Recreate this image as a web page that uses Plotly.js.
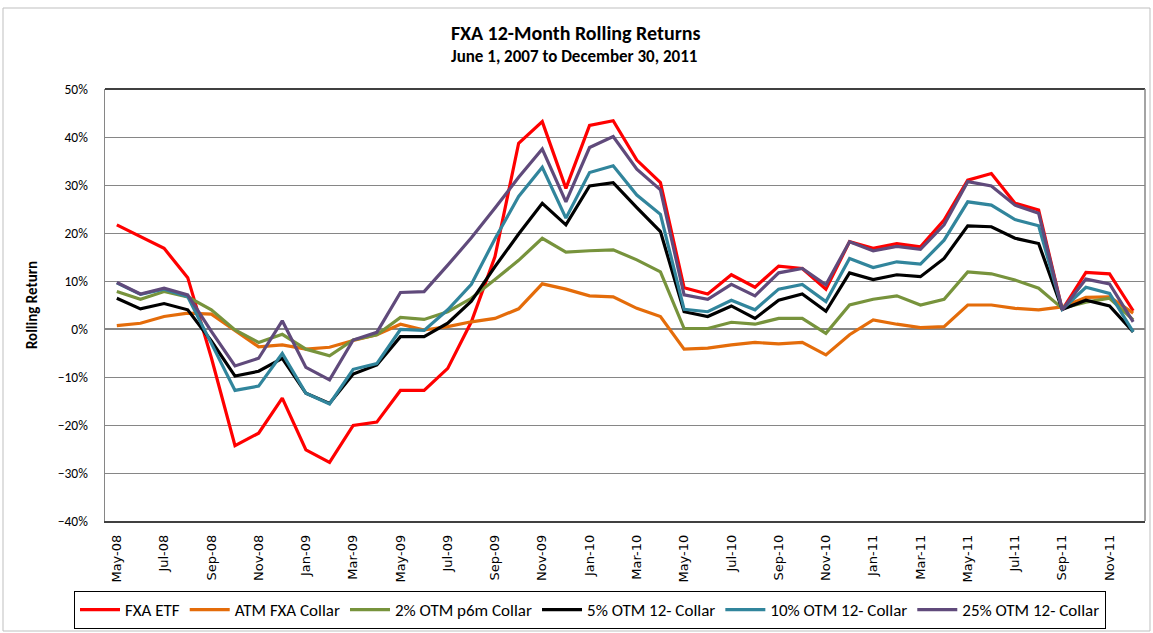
<!DOCTYPE html>
<html>
<head>
<meta charset="utf-8">
<script src="https://cdn.plot.ly/plotly-3.0.1.min.js"></script>
<style>html,body{margin:0;padding:0;background:#fff;}#chart{width:1153px;height:633px;}</style>
</head>
<body>
<div id="chart"></div>
<script>
const months = ["May-08","Jun-08","Jul-08","Aug-08","Sep-08","Oct-08","Nov-08","Dec-08",
  "Jan-09","Feb-09","Mar-09","Apr-09","May-09","Jun-09","Jul-09","Aug-09","Sep-09","Oct-09","Nov-09","Dec-09",
  "Jan-10","Feb-10","Mar-10","Apr-10","May-10","Jun-10","Jul-10","Aug-10","Sep-10","Oct-10","Nov-10","Dec-10",
  "Jan-11","Feb-11","Mar-11","Apr-11","May-11","Jun-11","Jul-11","Aug-11","Sep-11","Oct-11","Nov-11","Dec-11"];

const fxaEtf = [21.7,19.3,16.8,10.7,-6.0,-24.3,-21.7,-14.4,-25.2,-27.8,-20.1,-19.4,-12.8,-12.8,-8.2,1.5,15.1,38.7,43.2,29.3,42.4,43.4,35.2,30.5,8.6,7.3,11.3,8.7,13.1,12.6,8.3,18.2,16.8,17.8,17.1,22.7,31.0,32.4,26.2,24.8,4.0,11.8,11.5,3.8];
const atmCollar = [0.7,1.2,2.6,3.3,3.1,-0.2,-3.7,-3.3,-4.2,-3.8,-2.4,-1.2,1.0,-0.2,0.5,1.5,2.2,4.2,9.4,8.3,6.9,6.7,4.3,2.6,-4.2,-4.0,-3.3,-2.8,-3.1,-2.8,-5.4,-1.2,1.9,1.0,0.3,0.5,5.0,5.0,4.3,4.0,4.6,6.6,6.7,3.3];
const otm2p6m = [7.8,6.2,7.8,6.7,4.0,-0.2,-2.8,-1.1,-4.2,-5.6,-2.3,-1.2,2.4,2.0,3.6,6.4,10.3,14.3,18.9,16.0,16.3,16.5,14.4,11.9,0.1,0.1,1.4,1.0,2.2,2.2,-0.9,5.0,6.2,6.9,5.0,6.2,11.9,11.5,10.2,8.5,4.3,5.6,6.4,1.9];
const otm5 = [6.4,4.2,5.3,4.0,-2.5,-9.8,-8.8,-6.1,-13.4,-15.5,-9.4,-7.5,-1.6,-1.6,1.2,5.8,13.0,19.8,26.2,21.7,29.8,30.5,25.3,20.3,3.6,2.6,4.8,2.2,6.0,7.3,3.7,11.7,10.3,11.3,10.9,14.7,21.5,21.3,18.9,17.8,4.1,6.0,4.8,-0.6];
const otm10 = [9.6,7.2,8.3,6.7,-3.0,-12.8,-11.9,-5.1,-13.4,-15.6,-8.4,-7.2,-0.1,-0.3,4.0,9.3,18.8,27.6,33.7,23.1,32.6,34.0,27.9,23.9,4.1,3.6,6.0,4.0,8.3,9.3,5.7,14.7,12.8,14.0,13.5,18.5,26.5,25.8,22.8,21.5,4.1,8.7,7.4,-0.6];
const otm25 = [9.7,7.3,8.5,7.1,-0.5,-7.7,-6.1,1.7,-8.0,-10.6,-2.3,-0.7,7.6,7.8,13.3,19.0,25.2,31.6,37.5,26.5,37.8,40.1,33.3,29.0,7.1,6.2,9.3,6.9,11.7,12.6,9.2,18.2,16.3,17.2,16.6,21.7,30.7,29.8,25.8,24.1,4.0,10.4,9.4,1.5];

const seriesNames = ["FXA ETF","ATM FXA Collar","2% OTM p6m Collar","5% OTM 12- Collar","10% OTM 12- Collar","25% OTM 12- Collar"];
const seriesData = [fxaEtf, atmCollar, otm2p6m, otm5, otm10, otm25];
const seriesColors = ["#FF0000","#E46C0A","#77933C","#000000","#31859C","#604A7B"];
const yTicks = [-40,-30,-20,-10,0,10,20,30,40,50];
const xTickLabels = months.filter((m,i)=> i % 2 === 0);

const FONT = "Calibri, Carlito, 'Liberation Sans Narrow', 'Liberation Sans', Arial, sans-serif";
const XFONT = "'DejaVu Sans', Verdana, sans-serif";

const traces = seriesData.map((d,i)=>({
  type:'scatter', mode:'lines', x: months, y: d.map(v=>v/100), name: seriesNames[i],
  line:{color: seriesColors[i], width: 3.2}
}));

// plot area in px: left 105, right 1145, top 89, bottom 521
const px = v => (v-105)/1040, py = v => (521-v)/432;

const layout = {
  width:1153, height:633,
  margin:{l:105, r:8, t:89, b:112},
  paper_bgcolor:'#ffffff', plot_bgcolor:'#ffffff',
  font:{family:FONT, size:12, color:'#000'},
  showlegend:true,
  legend:{orientation:'h', xref:'container', yref:'container', x:590/1153, xanchor:'center', y:(633-591)/633, yanchor:'top',
    bordercolor:'#000', borderwidth:1, font:{family:FONT, size:17, color:'#000'},
    itemwidth:40, tracegroupgap:0},
  xaxis:{type:'category', categoryorder:'array', categoryarray: months, automargin:false,
    tickmode:'array', tickvals: xTickLabels, ticktext: xTickLabels, tickangle:-90,
    showgrid:false, showline:true, linecolor:'#404040', linewidth:1.5, mirror:false,
    ticks:'outside', ticklen:7, tickcolor:'rgba(0,0,0,0)',
    tickfont:{family:XFONT, size:13, color:'#000'}, range:[-0.5, months.length-0.5], zeroline:false},
  yaxis:{range:[-0.4,0.5], automargin:false, tickmode:'array', tickvals: yTicks.map(v=>v/100), tickformat:'.0%',
    showgrid:true, gridcolor:'#868686', gridwidth:1, zeroline:true, zerolinecolor:'#868686', zerolinewidth:1.5,
    showline:true, linecolor:'#868686', linewidth:1.5, ticks:'', ticklabelstandoff:13,
    tickfont:{family:FONT, size:13.5, color:'#000'},
    title:{text:'<b>Rolling Return</b>', font:{family:FONT, size:15, color:'#000'}, standoff:16}},
  shapes:[
    {type:'line', xref:'paper', yref:'paper', x0:0, x1:1, y0:1, y1:1, line:{color:'#000', width:1.5}},
    {type:'line', xref:'paper', yref:'paper', x0:1, x1:1, y0:0, y1:1, line:{color:'#868686', width:1.5}},
    {type:'rect', xref:'paper', yref:'paper', x0:px(3), x1:px(1150), y0:py(631), y1:py(8), line:{color:'#BFBFBF', width:1}}
  ],
  annotations:[
    {text:'<b>FXA 12-Month Rolling Returns</b>', xref:'paper', yref:'paper', x:px(575), y:py(33), xanchor:'center', yanchor:'middle', showarrow:false, font:{family:FONT, size:20, color:'#000'}},
    {text:'<b>June 1, 2007 to December 30, 2011</b>', xref:'paper', yref:'paper', x:px(574), y:py(57), xanchor:'center', yanchor:'middle', showarrow:false, font:{family:FONT, size:17, color:'#000'}}
  ]
};

Plotly.newPlot('chart', traces, layout, {displayModeBar:false, staticPlot:true});
</script>
</body>
</html>
